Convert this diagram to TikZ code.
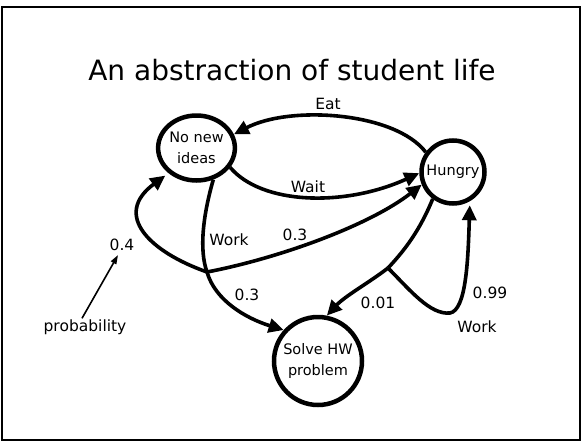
\documentclass[tikz,border=0pt]{standalone}
\usepackage{fontspec}
\setmainfont{DejaVu Sans}
\usetikzlibrary{arrows.meta,shapes.geometric}

\tikzset{
  state/.style={draw, line width=4.5pt, inner sep=0pt, align=center, font=\fontsize{14.5}{21}\selectfont},
  trans/.style={line width=3.6pt, -{Triangle[length=15pt,width=14pt]}},
  plain/.style={line width=3.6pt},
  lbl/.style={font=\fontsize{15.5}{17}\selectfont, inner sep=1pt},
  note/.style={line width=1.6pt, -{Triangle[length=9pt,width=6pt]}}
}

\begin{document}
\begin{tikzpicture}[x=1pt,y=-1pt]
  \useasboundingbox (0,0) rectangle (584,442);
  % slide frame
  \draw[line width=2.2pt] (2,7) rectangle (580,440);

  % title
  \node[font=\fontsize{28}{33}\selectfont] (title) at (292,70) {An abstraction of student life};

  % states
  \node[state, ellipse, minimum width=76pt, minimum height=65pt] (nni) at (196.5,148) {No new\\ideas};
  \node[state, circle, minimum size=63pt] (hun) at (453,172) {Hungry};
  \node[state, circle, minimum size=88pt] (sol) at (318,361) {Solve HW\\problem};

  % branch points of the two Work actions
  \coordinate (j1) at (207,272);
  \coordinate (j2) at (388,268);

  % Eat and Wait
  \draw[trans] (hun.144) .. controls (395,112) and (290,105) .. (nni.20);
  \draw[trans] (nni.-30) .. controls (262,205) and (345,207) .. (hun.182);

  % Work from "No new ideas"
  \draw[plain] (nni.-62) .. controls (203,215) and (199,250) .. (j1);
  \draw[trans] (j1) .. controls (280,258) and (370,225) .. (hun.202);
  \draw[trans, shorten >=4pt] (j1) .. controls (150,252) and (112,215) .. (nni.222);
  \draw[trans] (j1) .. controls (215,300) and (245,318) .. (sol.138);

  % Work from "Hungry"
  \draw[plain] (hun.-127) .. controls (420,230) and (405,250) .. (j2);
  \draw[trans] (j2) .. controls (370,282) and (345,296) .. (sol.79);
  \draw[trans, shorten >=4pt] (j2) .. controls (410,290) and (430,315) .. (450,313)
        .. controls (466,310) and (468,262) .. (hun.-60);

  % edge labels
  \node[lbl] (lEat) at (328,104) {Eat};
  \node[lbl] (lWait) at (308,187) {Wait};
  \node[lbl] (lWork1) at (229,240) {Work};
  \node[lbl] (lp3a) at (295,235) {0.3};
  \node[lbl] (lp4) at (122,245) {0.4};
  \node[lbl] (lp3b) at (247,295) {0.3};
  \node[lbl] (lp01) at (378,303) {0.01};
  \node[lbl] (lp99) at (490,293) {0.99};
  \node[lbl] (lWork2) at (477,327) {Work};

  % annotation
  \node[lbl] (prob) at (85,327) {probability};
  \draw[note] ([xshift=-3pt]prob.north) -- ([xshift=-4pt,yshift=-3pt]lp4.south);
\end{tikzpicture}
\end{document}
